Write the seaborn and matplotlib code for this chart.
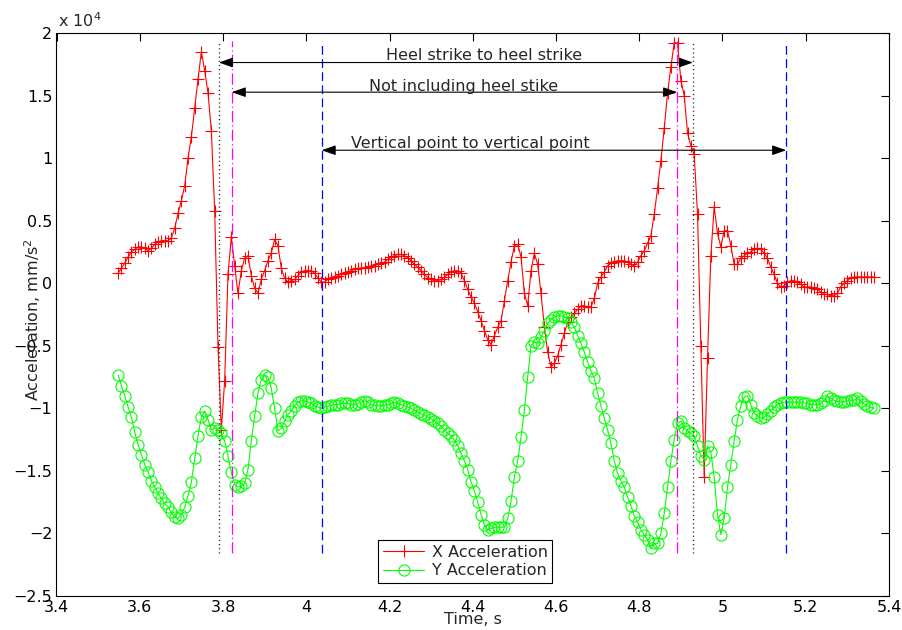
import numpy as np
import pandas as pd
import matplotlib
matplotlib.use("Agg")
import matplotlib.pyplot as plt
import seaborn as sns
from matplotlib.ticker import FuncFormatter, MultipleLocator

# ---- data (acceleration in units of 10^4 mm/s^2), sampled every 0.008 s from 3.548 s ----
x_accel = [
    0.08, 0.12, 0.16, 0.21, 0.25, 0.27, 0.29, 0.29, 0.28, 0.26,
    0.28, 0.31, 0.33, 0.34, 0.34, 0.34, 0.36, 0.44, 0.56, 0.66,
    0.78, 1.00, 1.17, 1.40, 1.63, 1.85, 1.70, 1.52, 1.22, 0.58,
    -0.51, -1.17, -0.78, 0.07, 0.37, 0.14, -0.08, 0.10, 0.20, 0.22,
    0.06, -0.04, -0.08, 0.03, 0.10, 0.18, 0.24, 0.35, 0.30, 0.12,
    0.04, 0.01, 0.02, 0.03, 0.06, 0.09, 0.10, 0.10, 0.10, 0.08,
    0.04, 0.01, 0.01, 0.03, 0.04, 0.05, 0.06, 0.07, 0.08, 0.09,
    0.10, 0.11, 0.12, 0.12, 0.12, 0.13, 0.14, 0.14, 0.15, 0.16,
    0.17, 0.19, 0.21, 0.22, 0.23, 0.23, 0.22, 0.20, 0.18, 0.15,
    0.13, 0.10, 0.07, 0.045, 0.03, 0.02, 0.02, 0.03, 0.05, 0.07,
    0.09, 0.10, 0.10, 0.08, 0.02, -0.05, -0.11, -0.16, -0.23, -0.30,
    -0.38, -0.45, -0.49, -0.42, -0.35, -0.30, -0.14, 0.02, 0.17, 0.30,
    0.31, 0.21, -0.08, -0.18, 0.10, 0.24, 0.15, -0.08, -0.35, -0.55,
    -0.67, -0.64, -0.58, -0.49, -0.40, -0.31, -0.27, -0.24, -0.21, -0.18,
    -0.18, -0.19, -0.19, -0.12, 0.00, 0.05, 0.09, 0.14, 0.16, 0.17,
    0.18, 0.18, 0.18, 0.17, 0.15, 0.14, 0.17, 0.22, 0.26, 0.32,
    0.38, 0.55, 0.76, 0.98, 1.24, 1.52, 1.73, 1.92, 1.92, 1.62,
    1.50, 1.20, 1.10, 1.03, 0.55, -0.50, -1.55, -0.60, 0.22, 0.61,
    0.40, 0.29, 0.42, 0.42, 0.30, 0.15, 0.15, 0.20, 0.22, 0.24,
    0.25, 0.27, 0.28, 0.27, 0.24, 0.20, 0.13, 0.07, 0.00, -0.03,
    -0.02, 0.01, 0.02, 0.02, 0.01, -0.01, -0.03, -0.03, -0.03, -0.04,
    -0.05, -0.07, -0.09, -0.09, -0.10, -0.10, -0.08, -0.03, 0.00, 0.02,
    0.04, 0.05, 0.05, 0.05, 0.05, 0.05, 0.05, 0.05,
]
y_accel = [
    -0.735, -0.82, -0.90, -0.99, -1.07, -1.19, -1.29, -1.37, -1.45, -1.51,
    -1.58, -1.63, -1.68, -1.72, -1.76, -1.79, -1.83, -1.87, -1.88, -1.85,
    -1.79, -1.70, -1.59, -1.40, -1.22, -1.07, -1.02, -1.09, -1.17, -1.16,
    -1.17, -1.20, -1.26, -1.38, -1.51, -1.61, -1.63, -1.62, -1.60, -1.49,
    -1.26, -1.06, -0.88, -0.77, -0.735, -0.75, -0.84, -1.00, -1.18, -1.16,
    -1.10, -1.05, -1.02, -0.98, -0.95, -0.94, -0.94, -0.95, -0.96, -0.98,
    -0.99, -1.00, -0.99, -0.985, -0.975, -0.97, -0.97, -0.96, -0.96, -0.96,
    -0.97, -0.97, -0.965, -0.95, -0.94, -0.95, -0.97, -0.975, -0.98, -0.98,
    -0.975, -0.97, -0.96, -0.95, -0.96, -0.97, -0.98, -0.99, -1.00, -1.015,
    -1.03, -1.045, -1.055, -1.07, -1.085, -1.10, -1.12, -1.145, -1.17, -1.20,
    -1.22, -1.255, -1.30, -1.36, -1.42, -1.49, -1.59, -1.66, -1.75, -1.85,
    -1.93, -1.97, -1.96, -1.95, -1.95, -1.95, -1.95, -1.88, -1.74, -1.55,
    -1.42, -1.23, -1.01, -0.75, -0.50, -0.47, -0.48, -0.43, -0.38, -0.32,
    -0.29, -0.27, -0.26, -0.26, -0.27, -0.28, -0.31, -0.35, -0.42, -0.48,
    -0.55, -0.63, -0.70, -0.76, -0.88, -0.98, -1.08, -1.17, -1.28, -1.42,
    -1.52, -1.58, -1.63, -1.71, -1.78, -1.86, -1.91, -1.97, -2.01, -2.05,
    -2.12, -2.08, -2.08, -2.00, -1.84, -1.63, -1.42, -1.25, -1.12, -1.10,
    -1.16, -1.18, -1.20, -1.22, -1.30, -1.38, -1.41, -1.30, -1.35, -1.55,
    -1.85, -2.01, -1.88, -1.63, -1.45, -1.26, -1.09, -0.98, -0.91, -0.90,
    -0.97, -1.04, -1.06, -1.08, -1.07, -1.045, -1.02, -0.99, -0.97, -0.96,
    -0.95, -0.95, -0.95, -0.95, -0.95, -0.95, -0.955, -0.96, -0.97, -0.97,
    -0.975, -0.96, -0.94, -0.90, -0.92, -0.935, -0.945, -0.95, -0.95, -0.94,
    -0.935, -0.935, -0.92, -0.945, -0.965, -0.98, -0.99, -1.00,
]
t_start = 3.548
t_step = 0.008
time_s = np.round(t_start + t_step * np.arange(len(x_accel)), 3)

series_labels = ["X Acceleration", "Y Acceleration"]
heel_strike_t = [3.790, 4.929]      # black dotted
not_incl_t = [3.821, 4.891]         # magenta dash-dot
vertical_t = [4.037, 5.153]         # blue dashed
arrow_texts = ["Heel strike to heel strike", "Not including heel stike",
               "Vertical point to vertical point"]
arrow_levels = [1.764, 1.527, 1.063]
text_x = [4.427, 4.379, 4.395]
text_base = [1.783, 1.537, 1.077]

# ---- style ----
sns.set_style("white")
plt.rcParams["font.family"] = ["DejaVu Sans"]
plt.rcParams["font.size"] = 11.5
plt.rcParams["axes.unicode_minus"] = True

fig = plt.figure(figsize=(9.03, 6.30), dpi=100)
W, H = 903.0, 630.0
L, R, T, B = 56.5, 889.0, 33.0, 596.0
ax = fig.add_axes([L / W, 1 - B / H, (R - L) / W, (B - T) / H])

df = pd.DataFrame({"time": time_s, series_labels[0]: x_accel, series_labels[1]: y_accel})

sns.lineplot(data=df, x="time", y=series_labels[0], ax=ax, color="#ff0000",
             lw=0.8, marker="+", markersize=9, markeredgewidth=0.8,
             markeredgecolor="#ff0000", estimator=None, sort=False,
             label=series_labels[0])
sns.lineplot(data=df, x="time", y=series_labels[1], ax=ax, color="#00ff00",
             lw=0.8, marker="o", markersize=8, markerfacecolor="none",
             markeredgewidth=0.8, markeredgecolor="#00ff00", estimator=None,
             sort=False, label=series_labels[1])

vtop, vbot = 1.94, -2.16
ax.vlines(heel_strike_t, vbot, vtop, colors="#222222", linestyles=(0, (0.8, 2.2)), lw=1.0)
ax.vlines(not_incl_t, vbot, vtop, colors="#ff00ff", linestyles=(0, (9, 2.5, 1, 2.5)), lw=0.9)
ax.vlines(vertical_t, vbot, vtop, colors="#0000ff", linestyles=(0, (7, 3.5)), lw=0.9)

spans = [heel_strike_t, not_incl_t, vertical_t]
for (a, b), lvl, txt, tx, tb in zip(spans, arrow_levels, arrow_texts, text_x, text_base):
    ax.annotate("", xy=(b, lvl), xytext=(a, lvl),
                arrowprops=dict(arrowstyle="<|-|>,head_length=0.85,head_width=0.3",
                                color="k", lw=0.8, shrinkA=0, shrinkB=0,
                                mutation_scale=10))
    ax.text(tx, tb, txt, ha="center", va="baseline", fontsize=11.5)

ax.set_xlim(3.4, 5.4)
ax.set_ylim(-2.5, 2.0)
ax.xaxis.set_major_locator(MultipleLocator(0.2))
ax.yaxis.set_major_locator(MultipleLocator(0.5))
fmt = FuncFormatter(lambda v, p: ("%g" % round(v, 2)).replace("-", "\u2212"))
ax.xaxis.set_major_formatter(fmt)
ax.yaxis.set_major_formatter(fmt)
ax.tick_params(direction="in", top=True, right=True, length=5.5, width=0.8,
               labelsize=11.5, colors="k")
ax.tick_params(axis="y", pad=3)
ax.tick_params(axis="x", pad=3)
for s in ax.spines.values():
    s.set_color("k")
    s.set_linewidth(0.8)
ax.set_xlabel("")
ax.set_ylabel("")

fig.text(473 / W, 1 - 620 / H, "Time, s", ha="center", va="center", fontsize=11.5)
fig.text(33 / W, 1 - 320 / H, "Acceleration, mm/s$^2$", ha="center", va="center",
         rotation=90, fontsize=11.5)
fig.text(58 / W, 1 - 27 / H, "x 10$^4$", ha="left", va="baseline", fontsize=11.5)

handles, labels = ax.get_legend_handles_labels()
leg = ax.legend(handles, labels, loc="upper left",
                bbox_to_anchor=(378 / W, 1 - 540 / H), bbox_transform=fig.transFigure,
                frameon=True, fancybox=False, edgecolor="k", framealpha=1,
                borderpad=0.3, labelspacing=0.22, handlelength=2.6,
                handletextpad=0.45, borderaxespad=0, fontsize=11.5)
leg.get_frame().set_linewidth(0.8)

fig.savefig("out.png", dpi=100, facecolor="white")
